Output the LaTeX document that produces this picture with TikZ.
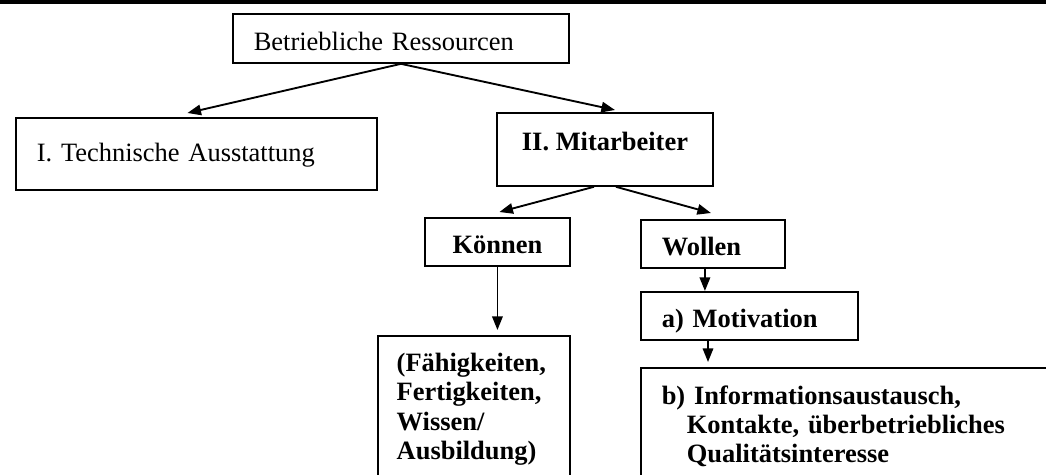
\documentclass[tikz,border=0pt]{standalone}
\usepackage{fontspec}
\setmainfont{Liberation Serif}
\usepackage{tikz}
\usetikzlibrary{arrows.meta, positioning, calc}

\begin{document}
\begin{tikzpicture}[
    x=0.48pt, y=-0.48pt,
    box/.style={rectangle, draw, line width=0.9pt, anchor=north west, inner xsep=10pt, inner ysep=2pt, text height=13pt, text depth=1.4pt, font=\fontsize{12.7pt}{14pt}\selectfont},
    boldbox/.style={box, font=\fontsize{12.7pt}{14pt}\selectfont\bfseries},
    tallbox/.style={rectangle, draw, line width=0.9pt, anchor=north west, inner xsep=9pt, inner ysep=8.4pt, align=left, font=\fontsize{12.7pt}{14pt}\selectfont\bfseries},
    arrow/.style={-{Triangle[length=6.5pt, width=5pt]}, line width=0.9pt}
]
    \useasboundingbox (0,0) rectangle (1046,474);

    % Rule at the top of the page
    \draw[line width=1.8pt] (0,2) -- (1046,2);

    % Resources
    \node[box, text width=141.3pt, align=left, minimum height=23.5pt] (res) at (232,13) {Betriebliche Ressourcen};

    % First level
    \node[box, text width=153.3pt, align=left, minimum height=34.6pt, text height=9pt, text depth=2.2pt] (tech) at (15,117) {I. Technische Ausstattung};
    \node[boldbox, align=center, minimum width=103.7pt, minimum height=35pt, text height=8.4pt, text depth=7pt] (staff) at (496,112) {II. Mitarbeiter};

    % Second level
    \node[boldbox, align=center, minimum width=69.6pt, minimum height=23pt] (skill) at (424,217) {Können};
    \node[boldbox, text width=49.1pt, align=left, minimum height=23pt] (will) at (640,219) {Wollen};
    \node[boldbox, text width=84.2pt, align=left, minimum height=23pt] (motiv) at (640,291) {a) Motivation};

    % Details
    \node[tallbox, text width=74pt] (abil) at (377,335) {(Fähigkeiten,\\Fertigkeiten,\\Wissen/\\Ausbildung)};
    \node[tallbox, inner xsep=10pt, text width=190pt] (info) at (640,367) {b) Informationsaustausch,\\\hspace*{12pt}Kontakte, überbetriebliches\\\hspace*{12pt}Qualitätsinteresse};

    % Connect components
    \draw[arrow] (res.south) -- ($(tech.north)+(-9,-4)$);
    \draw[arrow] (res.south) -- ($(staff.north)+(10,-2)$);
    \draw[arrow] ($(staff.south)+(-11,0)$) -- ($(skill.north)+(2,-5)$);
    \draw[arrow] ($(staff.south)+(11,0)$) -- ($(will.north)+(-2,-6)$);
    \draw[arrow] (skill.south) -- ($(skill.south |- abil.north)+(0,-5)$);
    \draw[arrow] ($(will.south)+(-8,0)$) coordinate (wfoot) -- (wfoot |- motiv.north);
    \draw[arrow] ($(motiv.south west)+(68,0)$) coordinate (mfoot) -- ($(mfoot |- info.north)+(0,-5)$);

\end{tikzpicture}
\end{document}
